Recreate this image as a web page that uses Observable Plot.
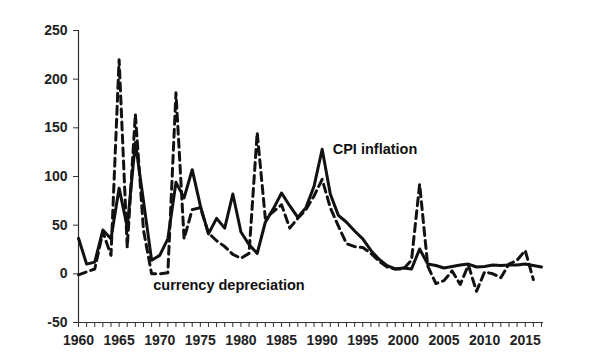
<!DOCTYPE html>
<html>
<head>
<meta charset="utf-8">
<script src="https://cdn.jsdelivr.net/npm/d3@7"></script>
<script src="https://cdn.jsdelivr.net/npm/@observablehq/plot@0.6"></script>
<style>
  html, body { margin: 0; padding: 0; background: #fff; }
  #chart svg { display: block; }
</style>
</head>
<body>
<div id="chart"></div>
<script>
const cpiYears = d3.range(1960, 2018);
const cpiInflation = [
  36.5, 10, 12, 45, 36, 88, 48, 135, 75, 14,
  19, 36, 94, 78, 107, 70, 41, 57, 47, 82,
  43, 30, 21, 53, 67, 83, 70, 58, 68, 90,
  128, 82, 60, 53, 44, 36, 24, 15, 8.5, 5,
  6, 5, 25.5, 10, 8.5, 6, 7.5, 9, 10, 7,
  7.5, 9, 8.5, 9, 9, 10, 8.5, 7
];
const depYears = d3.range(1960, 2017);
const currencyDepreciation = [
  -1, 2, 5, 43, 19, 220, 27, 164, 45, 0,
  0, 1, 186, 36, 66, 68, 42, 34, 28, 20,
  16, 21, 145, 57, 64, 71, 47, 57, 66, 80,
  97, 68, 49, 31, 28, 27, 21, 13, 7, 5,
  5, 14, 92, 8, -10, -7, 3, -11, 9, -18,
  2, 0, -4, 10, 14, 24, -6
];
const yTicks = [-50, 0, 50, 100, 150, 200, 250];
const xLabelTicks = d3.range(1960, 2016, 5);
const xMinorTicks = d3.range(1960, 2018);
const labelTexts = ["CPI inflation", "currency depreciation"];
const labelYears = [1991.3, 1969.2];
const labelValues = [127.5, -11.5];

const cpi = cpiYears.map((year, i) => ({year, value: cpiInflation[i]}));
const dep = depYears.map((year, i) => ({year, value: currencyDepreciation[i]}));
const labels = labelTexts.map((text, i) => ({text, year: labelYears[i], value: labelValues[i]}));

const chart = Plot.plot({
  width: 600,
  height: 360,
  marginLeft: 78,
  marginRight: 57,
  marginTop: 30,
  marginBottom: 38,
  style: {fontFamily: "'Liberation Sans', Arial, sans-serif", fontSize: "14px", fontWeight: "bold", color: "#222", background: "#fff"},
  x: {domain: [1960, 2017.25]},
  y: {domain: [-50, 250]},
  marks: [
    Plot.axisY({ticks: yTicks, tickSize: 5, tickPadding: 6, tickFormat: d => String(d), label: null, stroke: "#333", fontSize: 14}),
    Plot.axisX({ticks: xMinorTicks, tickSize: 5, tickFormat: () => "", label: null, stroke: "#333"}),
    Plot.axisX({ticks: xLabelTicks, tickSize: 0, tickPadding: 13, tickFormat: d => String(d), label: null, fontSize: 14}),
    Plot.ruleY([-50], {stroke: "#333", strokeWidth: 1.2}),
    Plot.ruleX([1960], {stroke: "#333", strokeWidth: 1.2}),
    Plot.line(dep, {x: "year", y: "value", stroke: "#111", strokeWidth: 3, strokeDasharray: "8,5"}),
    Plot.line(cpi, {x: "year", y: "value", stroke: "#111", strokeWidth: 3}),
    Plot.text(labels, {x: "year", y: "value", text: "text", textAnchor: "start", fontSize: 14.5, fontWeight: "bold", fill: "#111"})
  ]
});
document.getElementById("chart").appendChild(chart);
</script>
</body>
</html>
